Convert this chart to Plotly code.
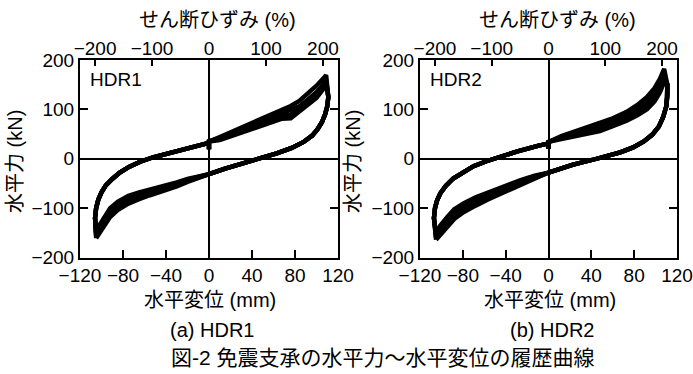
import plotly.graph_objects as go

# ---------------- data ----------------
x_ticks = [-120, -80, -40, 0, 40, 80, 120]
y_ticks = [-200, -100, 0, 100, 200]
strain_ticks = [-200, -100, 0, 100, 200]
strain_labels = ["\u2212200", "\u2212100", "0", "100", "200"]
mm_per_percent = 0.53  # rubber thickness factor linking mm and shear strain

# HDR1 loading (upper) branch: common outer part then band part
hdr1_up_x = [-105, -106, -105, -103, -100, -96, -90, -83, -74, -64, -52, -38, -22, -8,
             0, 0, 0,
             10, 25, 40, 55, 68, 76, 84, 92, 100, 106, 109]
hdr1_up_common = [-120, -100, -83, -68, -54, -41, -28, -16, -6, 3, 11, 19, 27,
                  32, 19, 35]
hdr1_neg_tip = [-161, -157, -153, -149]
hdr1_up_band = [
    [44, 58, 72, 86, 99, 107, 117, 132, 148, 162, 169],
    [42, 55, 67, 80, 91, 98, 106, 120, 135, 150, 160],
    [40, 52, 64, 76, 86, 90, 100, 114, 129, 145, 156],
    [38, 49, 60, 71, 81, 82, 95, 108, 123, 140, 152],
]
# HDR1 unloading (lower) branch
hdr1_dn_x = [109, 111, 110, 108, 105, 101, 96, 88, 77, 63, 48, 30, 15, 0,
             -10, -20, -30, -45, -55, -65, -75, -85, -92, -98, -102, -105]
hdr1_dn_common = [125, 106, 90, 74, 60, 47, 34, 22, 11, 2, -10, -20, -31]
hdr1_dn_band = [
    [-38, -47, -56, -66, -74, -82, -91, -104, -118, -138, -152, -161],
    [-37, -45, -53, -62, -70, -77, -85, -98, -112, -132, -146, -157],
    [-36, -43, -50, -59, -66, -72, -80, -92, -106, -126, -140, -153],
    [-35, -41, -48, -56, -62, -68, -75, -87, -100, -120, -135, -149],
]

# HDR2 loading (upper) branch
hdr2_up_x = [-105, -107, -106, -104, -101, -96, -89, -80, -70, -58, -45, -29, -10,
             0, 0, 0,
             12, 23, 35, 48, 60, 73, 83, 92, 99, 104, 108]
hdr2_up_common = [-120, -100, -84, -70, -55, -40, -27, -15, -5, 5, 15, 26,
                  31, 20, 34]
hdr2_neg_tip = [-164, -160, -156, -152]
hdr2_up_band = [
    [46, 54, 62, 71, 82, 95, 109, 125, 143, 162, 182],
    [44, 51, 58, 66, 76, 88, 101, 115, 133, 150, 170],
    [42, 48, 54, 61, 71, 82, 94, 107, 124, 142, 162],
    [40, 45, 51, 56, 66, 77, 88, 100, 116, 134, 155],
]
# HDR2 unloading (lower) branch
hdr2_dn_x = [108, 111, 111, 110, 107, 103, 97, 89, 79, 67, 45, 23, 0,
             -13, -26, -40, -57, -68, -79, -88, -94.5, -101, -105]
hdr2_dn_common = [150, 128, 106, 84, 65, 49, 35, 23, 13, 0, -12, -28]
hdr2_dn_band = [
    [-40, -53, -67, -83, -95, -108, -122, -137, -152, -164],
    [-38, -50, -62, -78, -89, -101, -115, -130, -146, -160],
    [-36, -47, -58, -73, -84, -95, -108, -123, -140, -156],
    [-34, -43, -54, -67, -78, -90, -102, -118, -135, -152],
]

# ---------------- figure ----------------
FONT = "Liberation Sans, Noto Sans CJK JP, sans-serif"
fig = go.Figure()
LW = 4.4


def add_loops(up_x, up_common, neg_tip, up_band, dn_x, dn_common, dn_band, xa, ya):
    for k in range(len(up_band)):
        uy = [neg_tip[k]] + up_common + up_band[k]
        pos_tip = up_band[k][-1]
        dy_ = [pos_tip] + dn_common + dn_band[k]
        fig.add_trace(go.Scatter(x=up_x + dn_x, y=uy + dy_, mode="lines",
                                 line=dict(color="black", width=LW),
                                 xaxis=xa, yaxis=ya, showlegend=False,
                                 hoverinfo="skip"))


add_loops(hdr1_up_x, hdr1_up_common, hdr1_neg_tip, hdr1_up_band,
          hdr1_dn_x, hdr1_dn_common, hdr1_dn_band, "x", "y")
add_loops(hdr2_up_x, hdr2_up_common, hdr2_neg_tip, hdr2_up_band,
          hdr2_dn_x, hdr2_dn_common, hdr2_dn_band, "x2", "y2")

# invisible markers so the top strain axes render
for xa, ya in (("x3", "y"), ("x4", "y2")):
    fig.add_trace(go.Scatter(x=strain_ticks, y=[0] * len(strain_ticks), mode="markers",
                             marker=dict(opacity=0), xaxis=xa, yaxis=ya,
                             showlegend=False, hoverinfo="skip"))

W, H = 693, 374
d1 = [80 / W, 338 / W]
d2 = [420 / W, 677 / W]
dy = [1 - 257.5 / H, 1 - 60 / H]

tickfont = dict(family=FONT, size=19, color="black")
common_x = dict(range=[-120, 120], tickvals=x_ticks, ticks="inside", ticklen=8,
                tickwidth=2, tickcolor="black", showline=True, linewidth=2,
                linecolor="black", mirror=True, zeroline=True, zerolinecolor="black",
                zerolinewidth=1.6, showgrid=False, tickfont=tickfont, automargin=False)
common_y = dict(range=[-200, 200], tickvals=y_ticks, ticks="inside", ticklen=8,
                tickwidth=2, tickcolor="black", showline=True, linewidth=2,
                linecolor="black", mirror="ticks", zeroline=True, zerolinecolor="black",
                zerolinewidth=1.6, showgrid=False, tickfont=tickfont, automargin=False)
strain_range = [-120 / mm_per_percent, 120 / mm_per_percent]
common_top = dict(range=strain_range, tickvals=strain_ticks, ticktext=strain_labels,
                  side="top", ticks="inside", ticklen=6, tickwidth=2, tickcolor="black",
                  showline=False, zeroline=False, showgrid=False, tickfont=tickfont,
                  automargin=False)

fig.update_layout(
    width=W, height=H, margin=dict(l=0, r=0, t=0, b=0, autoexpand=False),
    paper_bgcolor="white", plot_bgcolor="white",
    xaxis=dict(domain=d1, anchor="y", **common_x),
    yaxis=dict(domain=dy, anchor="x", **common_y),
    xaxis2=dict(domain=d2, anchor="y2", **common_x),
    yaxis2=dict(domain=dy, anchor="x2", **common_y),
    xaxis3=dict(overlaying="x", anchor="y", **common_top),
    xaxis4=dict(overlaying="x2", anchor="y2", **common_top),
    showlegend=False,
)


def ann(text, px, py, size=19, angle=0):
    fig.add_annotation(text=text, x=px / W, y=1 - py / H, xref="paper", yref="paper",
                       showarrow=False, xanchor="center", yanchor="middle",
                       textangle=angle, font=dict(family=FONT, size=size, color="black"))


ann("せん断ひずみ (%)", 217, 20, size=20)
ann("せん断ひずみ (%)", 557, 20, size=20)
ann("水平変位 (mm)", 210, 300, size=20)
ann("水平変位 (mm)", 550, 300, size=20)
ann("水平力 (kN)", 15, 162, size=20, angle=-90)
ann("水平力 (kN)", 353, 162, size=20, angle=-90)
ann("HDR1", 116, 80)
ann("HDR2", 456, 80)
ann("(a) HDR1", 212, 330, size=20)
ann("(b) HDR2", 552, 330, size=20)
ann("図-2 免震支承の水平力～水平変位の履歴曲線", 383, 357, size=21)

fig.write_html("out.html")
